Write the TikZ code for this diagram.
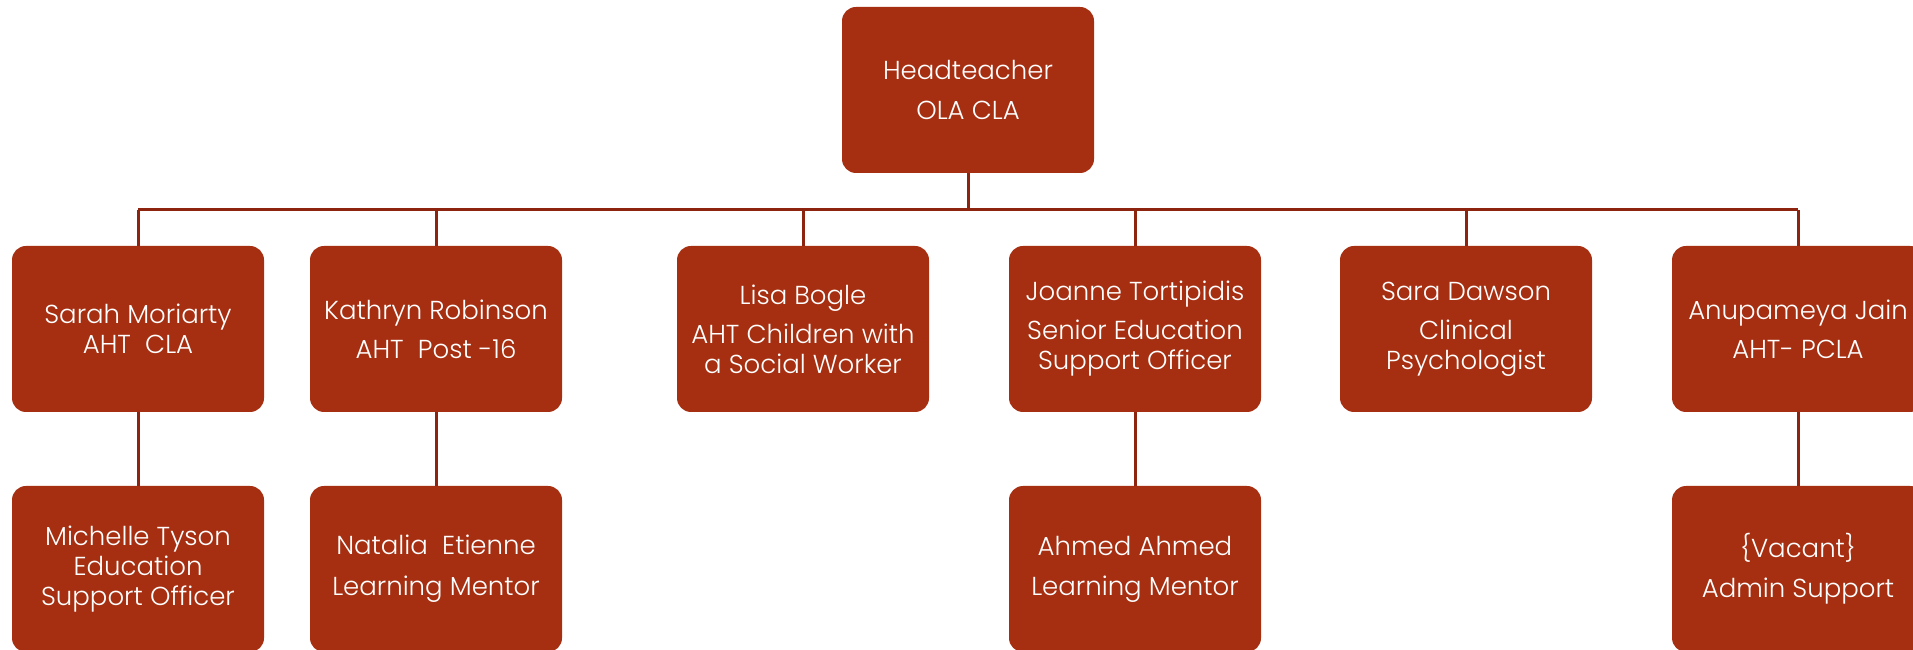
\documentclass[tikz,border=0pt]{standalone}
\usepackage{fontspec}
\setmainfont{Poppins}[UprightFont=* Light]

\definecolor{boxred}{RGB}{166,47,18}
\definecolor{linered}{RGB}{140,36,16}

\begin{document}
\begin{tikzpicture}[x=1pt,y=1pt,
        post/.style={fill=boxred,text=white,rounded corners=14pt,
            minimum width=252pt,minimum height=166pt,inner sep=0pt,
            align=center,font=\fontsize{26}{30}\selectfont},
        link/.style={linered,line width=3pt}
    ]
        \useasboundingbox (0,0) rectangle (1913,650);
        % top
        \node[post] (head) at (968,560) {Headteacher\\[10pt]OLA CLA};
        % second row
        \node[post] (sarah) at (138,321) {Sarah Moriarty\\AHT\ \ CLA};
        \node[post] (kathryn) at (436,321) {Kathryn Robinson\\[9pt]AHT\ \ Post -16};
        \node[post] (lisa) at (803,321) {Lisa Bogle\\[9pt]AHT Children with\\a Social Worker};
        \node[post] (joanne) at (1135,321) {Joanne Tortipidis\\[9pt]Senior Education\\Support Officer};
        \node[post] (sara) at (1466,321) {Sara Dawson\\[9pt]Clinical\\Psychologist};
        \node[post] (anu) at (1798,321) {Anupameya Jain\\[9pt]AHT- PCLA};
        % third row
        \node[post] (michelle) at (138,81) {Michelle Tyson\\Education\\Support Officer};
        \node[post] (natalia) at (436,81) {Natalia\ \ Etienne\\[11pt]Learning Mentor};
        \node[post] (ahmed) at (1135,81) {Ahmed Ahmed\\[10pt]Learning Mentor};
        \node[post] (vacant) at (1798,81) {\{Vacant\}\\[10pt]Admin Support};
        % lines
        \coordinate (bus) at (0,440);
        \draw[link] (head.south) -- (head.south |- bus);
        \draw[link] (sarah.north |- bus) -- (anu.north |- bus);
        \foreach \n in {sarah,kathryn,lisa,joanne,sara,anu} {
            \draw[link] (\n.north) -- (\n.north |- bus);
        }
        \foreach \a/\b in {sarah/michelle,kathryn/natalia,joanne/ahmed,anu/vacant} {
            \draw[link] (\a.south) -- (\b.north);
        }
    \end{tikzpicture}
\end{document}
